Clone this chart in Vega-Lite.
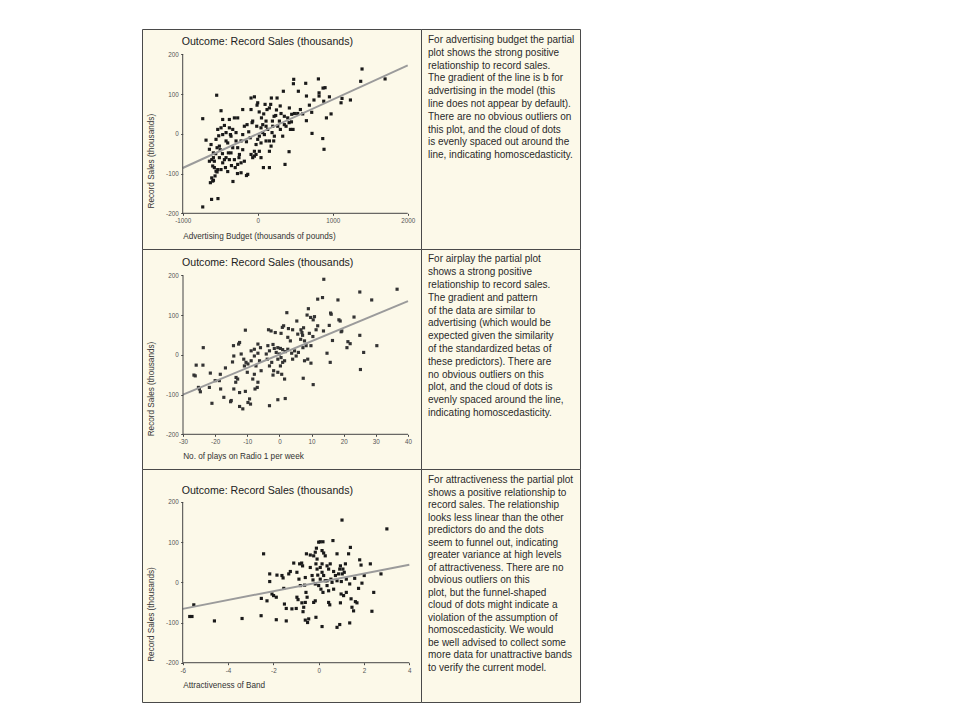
{
  "$schema": "https://vega.github.io/schema/vega-lite/v6.json",
  "padding": {"left": 141, "top": 28, "right": 0, "bottom": 0},
  "background": "white",
  "config": {
    "font": "Liberation Sans",
    "view": {"stroke": "#4a4a4a", "strokeWidth": 1, "fill": "#fcf9e9"},
    "axis": {"grid": false, "domain": false, "tickSize": 2, "tickColor": "#444", "labelFontSize": 6.3, "labelColor": "#555", "labelPadding": 2.5, "titleFontSize": 8.2, "titleFontWeight": "normal", "titleColor": "#333", "labelFlush": false, "labelOverlap": false, "labelExpr": "'' + datum.value"}
  },
  "datasets": {
    "adv": [
      {"x":-733,"y":38},{"x":-733,"y":-184},{"x":-689,"y":-16},{"x":-547,"y":97},{"x":-489,"y":58},{"x":-615,"y":-165},{"x":-530,"y":-163},{"x":-631,"y":-123},{"x":-590,"y":-117},{"x":-330,"y":-120},{"x":-150,"y":-105},{"x":-270,"y":-100},{"x":76,"y":-85},{"x":156,"y":-85},
      {"x":1391,"y":163},{"x":1373,"y":132},{"x":1698,"y":138},{"x":1236,"y":85},{"x":1111,"y":78},{"x":1124,"y":89},{"x":978,"y":50},{"x":956,"y":93},{"x":916,"y":40},{"x":867,"y":-12},{"x":884,"y":-39},{"x":880,"y":82},{"x":898,"y":116},{"x":871,"y":115},{"x":809,"y":138},{"x":818,"y":103},{"x":818,"y":95},{"x":724,"y":1},{"x":720,"y":54},{"x":689,"y":72},{"x":649,"y":33},{"x":640,"y":127},{"x":569,"y":61},{"x":542,"y":107},{"x":480,"y":137},{"x":476,"y":126},{"x":533,"y":51},{"x":489,"y":51},{"x":453,"y":49},{"x":422,"y":65},{"x":418,"y":28},{"x":436,"y":11},{"x":471,"y":11},{"x":418,"y":-45},{"x":364,"y":-77},{"x":342,"y":107},{"x":258,"y":90},{"x":182,"y":90},{"x":173,"y":74},{"x":218,"y":44},{"x":240,"y":46},{"x":196,"y":32},{"x":311,"y":51},{"x":355,"y":44},{"x":355,"y":23},{"x":378,"y":19},{"x":302,"y":11},{"x":200,"y":19},{"x":191,"y":3},{"x":213,"y":-18},{"x":178,"y":-31},{"x":156,"y":-44},{"x":156,"y":-18},{"x":111,"y":-18},{"x":111,"y":32},{"x":124,"y":61},{"x":98,"y":74},{"x":156,"y":65},{"x":0,"y":78},{"x":-9,"y":72},{"x":-44,"y":93},{"x":-89,"y":90},{"x":-89,"y":61},{"x":-67,"y":32},{"x":-75,"y":28},{"x":-13,"y":19},{"x":22,"y":-6},{"x":0,"y":-14},{"x":-22,"y":-27},{"x":44,"y":-23},{"x":-44,"y":-44},{"x":-67,"y":-60},{"x":-89,"y":-52},{"x":-22,"y":-52},{"x":22,"y":-44},{"x":-142,"y":23},{"x":-200,"y":61},{"x":-178,"y":19},{"x":-200,"y":-2},{"x":-222,"y":-18},{"x":-267,"y":40},{"x":-289,"y":3},{"x":-289,"y":-18},{"x":-267,"y":-35},{"x":-244,"y":-52},{"x":-222,"y":-73},{"x":-178,"y":-69},{"x":-267,"y":-77},{"x":-311,"y":-65},{"x":-333,"y":-35},{"x":-378,"y":15},{"x":-364,"y":-2},{"x":-422,"y":3},{"x":-400,"y":-23},{"x":-391,"y":-48},{"x":-356,"y":-48},{"x":-378,"y":-65},{"x":-422,"y":-60},{"x":-444,"y":-65},{"x":-467,"y":-73},{"x":-489,"y":-90},{"x":-533,"y":-90},{"x":-556,"y":-94},{"x":-578,"y":-85},{"x":-578,"y":-69},{"x":-511,"y":-60},{"x":-511,"y":-31},{"x":-542,"y":-35},{"x":-556,"y":-14},{"x":-533,"y":11},{"x":-489,"y":15},{"x":-444,"y":21},{"x":-467,"y":-2},{"x":-422,"y":-18},{"x":-356,"y":-6},{"x":-378,"y":36},{"x":-467,"y":36},{"x":-333,"y":11},{"x":-311,"y":40},{"x":-622,"y":-27},{"x":-644,"y":-39},{"x":-591,"y":-48},{"x":-591,"y":-60},{"x":-613,"y":-65},{"x":-644,"y":-69},{"x":-600,"y":-81},{"x":-569,"y":-106},{"x":-542,"y":-96},{"x":-613,"y":-111},{"x":-600,"y":-119},{"x":-222,"y":-98},{"x":-133,"y":-102},{"x":-44,"y":-56},{"x":44,"y":-60},{"x":44,"y":15},{"x":67,"y":3},{"x":89,"y":-2},{"x":111,"y":19},{"x":133,"y":11},{"x":67,"y":23},{"x":267,"y":19},{"x":289,"y":32},{"x":333,"y":-6},{"x":222,"y":-6},
      {"x":-520,"y":-5},{"x":-500,"y":-40},{"x":-560,"y":-50},{"x":-470,"y":-50},{"x":-430,"y":-85},{"x":-400,"y":-95},{"x":-350,"y":-80},{"x":-300,"y":-85},{"x":-250,"y":-60},{"x":-200,"y":-40},{"x":-150,"y":-20},{"x":-100,"y":-10},{"x":-120,"y":5},{"x":50,"y":40},{"x":80,"y":50},{"x":20,"y":55},{"x":250,"y":60},{"x":300,"y":70},{"x":400,"y":40},{"x":450,"y":30},{"x":600,"y":50},{"x":650,"y":95},{"x":750,"y":85}
    ],
    "advLine": [{"x":-1000,"y":-86},{"x":2000,"y":172}],
    "air": [
      {"x":13.8,"y":190},{"x":25,"y":158},{"x":36.6,"y":165},{"x":28.7,"y":138},{"x":18.2,"y":138},{"x":13.4,"y":144},{"x":11.9,"y":140},{"x":9,"y":116},{"x":2.3,"y":106},{"x":8.6,"y":100},{"x":10.9,"y":96},{"x":9.7,"y":94},{"x":10.5,"y":88},{"x":16.1,"y":102},{"x":15.9,"y":105},{"x":18.5,"y":88},{"x":18.9,"y":85},{"x":23.2,"y":95},{"x":15.5,"y":74},{"x":13.7,"y":60},{"x":11.9,"y":73},{"x":11.4,"y":63},{"x":7.5,"y":68},{"x":6.7,"y":63},{"x":7,"y":56},{"x":7.2,"y":49},{"x":6.6,"y":39},{"x":5.7,"y":52},{"x":5.4,"y":85},{"x":4.1,"y":63},{"x":2.8,"y":66},{"x":1.3,"y":73},{"x":0.9,"y":69},{"x":0.5,"y":54},{"x":3.4,"y":35},{"x":2.6,"y":44},{"x":10.4,"y":46},{"x":9.3,"y":54},{"x":9.8,"y":23},{"x":8.3,"y":23},{"x":7.8,"y":35},{"x":7.3,"y":18},{"x":19.2,"y":58},{"x":19.4,"y":60},{"x":16.5,"y":36},{"x":21,"y":18},{"x":22,"y":28},{"x":21.3,"y":33},{"x":25,"y":49},{"x":26.2,"y":6},{"x":30.3,"y":23},{"x":25.2,"y":-37},{"x":15.8,"y":-19},{"x":14.8,"y":4},{"x":10.5,"y":-75},{"x":7.4,"y":-59},{"x":9.8,"y":-21},{"x":8.8,"y":-11},{"x":7.8,"y":-15},{"x":5.9,"y":6},{"x":5.2,"y":-3},{"x":4.7,"y":10},{"x":3.8,"y":4},{"x":4.1,"y":-11},{"x":2.6,"y":14},{"x":1.8,"y":8},{"x":1,"y":13},{"x":0.3,"y":16},{"x":-0.5,"y":18},{"x":0,"y":2},{"x":0.5,"y":-7},{"x":1.6,"y":-15},{"x":1,"y":-19},{"x":0.3,"y":-28},{"x":-0.5,"y":-11},{"x":-1,"y":6},{"x":-1.6,"y":16},{"x":-2,"y":26},{"x":-2.6,"y":60},{"x":-3.4,"y":63},{"x":-1.3,"y":56},{"x":-3.6,"y":23},{"x":-3.1,"y":10},{"x":-4.1,"y":2},{"x":-3.8,"y":-11},{"x":-2.4,"y":-19},{"x":-3.1,"y":-28},{"x":-1.8,"y":-40},{"x":-2,"y":-51},{"x":-0.5,"y":-44},{"x":0.7,"y":-49},{"x":1.6,"y":-61},{"x":1.8,"y":-110},{"x":-0.5,"y":-113},{"x":-3.1,"y":-128},{"x":-5.7,"y":-40},{"x":-6.2,"y":-15},{"x":-6.7,"y":4},{"x":-5.9,"y":18},{"x":-6.7,"y":27},{"x":-7.8,"y":14},{"x":-7.8,"y":-3},{"x":-8.8,"y":10},{"x":-8.8,"y":-15},{"x":-9.8,"y":-23},{"x":-7.3,"y":-28},{"x":-7.8,"y":-49},{"x":-8.3,"y":-61},{"x":-6.7,"y":-69},{"x":-6.9,"y":-82},{"x":-7.6,"y":-86},{"x":-10,"y":-44},{"x":-9.3,"y":-111},{"x":-9.8,"y":-120},{"x":-9,"y":-124},{"x":-11.4,"y":-136},{"x":-12.4,"y":-130},{"x":-12.4,"y":-95},{"x":-10.6,"y":-92},{"x":-10.6,"y":62},{"x":-11.9,"y":2},{"x":-11.1,"y":-11},{"x":-10.4,"y":-19},{"x":-10.9,"y":-28},{"x":-12.4,"y":31},{"x":-12.7,"y":27},{"x":-14.3,"y":23},{"x":-14.2,"y":-3},{"x":-14.6,"y":-18},{"x":-13,"y":-61},{"x":-13.6,"y":-69},{"x":-13.5,"y":-57},{"x":-14.2,"y":-86},{"x":-15,"y":-115},{"x":-15.2,"y":-118},{"x":-16.8,"y":-33},{"x":-17.3,"y":-107},{"x":-18.4,"y":-49},{"x":-18.7,"y":-65},{"x":-18.3,"y":-86},{"x":-20,"y":-65},{"x":-21.5,"y":-46},{"x":-21,"y":-122},{"x":-21.8,"y":-82},{"x":-23.7,"y":18},{"x":-23.8,"y":-26},{"x":-24.9,"y":-86},{"x":-24.6,"y":-93},{"x":-25.9,"y":-26},{"x":-26.6,"y":-51},{"x":-26.2,"y":-53},{"x":-25.2,"y":-82}
    ],
    "airLine": [{"x":-30,"y":-100},{"x":40,"y":135}],
    "att": [
      {"x":-5.69,"y":-85},{"x":-5.59,"y":-85},{"x":-5.51,"y":-56},{"x":-4.6,"y":-96},{"x":-3.38,"y":-90},{"x":-2.54,"y":-83},{"x":-2.43,"y":71},{"x":-2.53,"y":-40},{"x":-2.28,"y":-46},{"x":-2.16,"y":21},{"x":-2.16,"y":2},{"x":-2.06,"y":-29},{"x":-1.99,"y":-33},{"x":-1.87,"y":-37},{"x":-1.87,"y":-93},{"x":-1.84,"y":18},{"x":-1.62,"y":17},{"x":-1.57,"y":11},{"x":-1.54,"y":-15},{"x":-1.51,"y":-54},{"x":-1.43,"y":-96},{"x":-1.43,"y":-65},{"x":-1.32,"y":21},{"x":-1.25,"y":27},{"x":-1.18,"y":-66},{"x":-1.1,"y":48},{"x":-0.99,"y":-65},{"x":-0.96,"y":25},{"x":-0.87,"y":8},{"x":-0.81,"y":-8},{"x":-0.84,"y":46},{"x":-0.75,"y":48},{"x":-0.71,"y":41},{"x":-0.74,"y":-51},{"x":-0.69,"y":-73},{"x":-0.96,"y":-37},{"x":-0.91,"y":-43},{"x":-0.66,"y":-62},{"x":-0.59,"y":-50},{"x":-0.51,"y":-37},{"x":-0.56,"y":-25},{"x":-0.62,"y":-7},{"x":-0.59,"y":12},{"x":-0.59,"y":-94},{"x":-0.49,"y":-100},{"x":-0.44,"y":-91},{"x":-0.54,"y":71},{"x":-0.37,"y":37},{"x":-0.37,"y":68},{"x":-0.29,"y":17},{"x":-0.25,"y":6},{"x":-0.22,"y":66},{"x":-0.15,"y":75},{"x":-0.1,"y":85},{"x":-0.07,"y":58},{"x":-0.12,"y":46},{"x":-0.07,"y":33},{"x":-0.04,"y":18},{"x":-0.15,"y":-4},{"x":-0.15,"y":-46},{"x":-0.22,"y":-50},{"x":-0.12,"y":-87},{"x":0,"y":100},{"x":0.07,"y":101},{"x":0.19,"y":101},{"x":0.15,"y":79},{"x":0.22,"y":73},{"x":0.29,"y":66},{"x":0.15,"y":46},{"x":0.07,"y":37},{"x":0.15,"y":25},{"x":0.22,"y":17},{"x":0.07,"y":8},{"x":0,"y":-8},{"x":0.1,"y":-17},{"x":0.19,"y":-25},{"x":0.29,"y":4},{"x":0.37,"y":-8},{"x":0.44,"y":-21},{"x":0.15,"y":-110},{"x":0.37,"y":41},{"x":0.44,"y":33},{"x":0.51,"y":46},{"x":0.54,"y":8},{"x":0.63,"y":104},{"x":0.59,"y":0},{"x":0.66,"y":-17},{"x":0.44,"y":-50},{"x":0.49,"y":-56},{"x":0.81,"y":71},{"x":0.88,"y":21},{"x":0.93,"y":33},{"x":0.96,"y":41},{"x":1,"y":2},{"x":0.99,"y":-29},{"x":0.96,"y":-51},{"x":0.93,"y":-105},{"x":0.81,"y":-112},{"x":1.03,"y":155},{"x":1.07,"y":33},{"x":1.13,"y":25},{"x":1.18,"y":46},{"x":1.22,"y":8},{"x":1.22,"y":-25},{"x":1.1,"y":-33},{"x":1.04,"y":21},{"x":1.32,"y":71},{"x":1.4,"y":87},{"x":1.37,"y":-4},{"x":1.37,"y":-101},{"x":1.43,"y":-41},{"x":1.47,"y":-62},{"x":1.54,"y":-71},{"x":1.62,"y":-48},{"x":1.69,"y":-51},{"x":1.59,"y":10},{"x":1.76,"y":-15},{"x":1.81,"y":56},{"x":1.87,"y":43},{"x":1.91,"y":-2},{"x":2.01,"y":17},{"x":2.28,"y":46},{"x":2.35,"y":-72},{"x":2.43,"y":-25},{"x":2.75,"y":21},{"x":3.01,"y":133},{"x":0.81,"y":4},{"x":0.74,"y":17},{"x":0.66,"y":27},{"x":0.37,"y":4}
    ],
    "attLine": [{"x":-6,"y":-66},{"x":4,"y":44}],
    "heading": [{"label": "Outcome: Record Sales (thousands)"}],
    "t1": [
      {"line":1,"text":"For advertising budget the partial"},
      {"line":2,"text":"plot shows the strong positive"},
      {"line":3,"text":"relationship to record sales."},
      {"line":4,"text":"The gradient of the line is b for"},
      {"line":5,"text":"advertising in the model (this"},
      {"line":6,"text":"line does not appear by default)."},
      {"line":7,"text":"There are no obvious outliers on"},
      {"line":8,"text":"this plot, and the cloud of dots"},
      {"line":9,"text":"is evenly spaced out around the"},
      {"line":10,"text":"line, indicating homoscedasticity."}
    ],
    "t2": [
      {"line":1,"text":"For airplay the partial plot"},
      {"line":2,"text":"shows a strong positive"},
      {"line":3,"text":"relationship to record sales."},
      {"line":4,"text":"The gradient and pattern"},
      {"line":5,"text":"of the data are similar to"},
      {"line":6,"text":"advertising (which would be"},
      {"line":7,"text":"expected given the similarity"},
      {"line":8,"text":"of the standardized betas of"},
      {"line":9,"text":"these predictors). There are"},
      {"line":10,"text":"no obvious outliers on this"},
      {"line":11,"text":"plot, and the cloud of dots is"},
      {"line":12,"text":"evenly spaced around the line,"},
      {"line":13,"text":"indicating homoscedasticity."}
    ],
    "t3": [
      {"line":1,"text":"For attractiveness the partial plot"},
      {"line":2,"text":"shows a positive relationship to"},
      {"line":3,"text":"record sales. The relationship"},
      {"line":4,"text":"looks less linear than the other"},
      {"line":5,"text":"predictors do and the dots"},
      {"line":6,"text":"seem to funnel out, indicating"},
      {"line":7,"text":"greater variance at high levels"},
      {"line":8,"text":"of attractiveness. There are no"},
      {"line":9,"text":"obvious outliers on this"},
      {"line":10,"text":"plot, but the funnel-shaped"},
      {"line":11,"text":"cloud of dots might indicate a"},
      {"line":12,"text":"violation of the assumption of"},
      {"line":13,"text":"homoscedasticity. We would"},
      {"line":14,"text":"be well advised to collect some"},
      {"line":15,"text":"more data for unattractive bands"},
      {"line":16,"text":"to verify the current model."}
    ]
  },
  "columns": 2,
  "spacing": 0,
  "bounds": "flush",
  "align": "each",
  "concat": [
    {
      "width": 279,
      "height": 220,
      "layer": [
        {"data": {"name": "adv"}, "mark": {"type": "square", "size": 10, "color": "#1a1a1a", "opacity": 1},
          "encoding": {
            "x": {"field": "x", "type": "quantitative", "scale": {"domain": [-1542.7, 2177], "nice": false, "zero": false},
              "axis": {"values": [-1000, 0, 1000, 2000], "labelOverlap": false, "offset": -35.7, "title": "Advertising Budget (thousands of pounds)", "titleX": 40.7, "titleY": 23.4, "titleAlign": "left", "titleBaseline": "middle"}},
            "y": {"field": "y", "type": "quantitative", "scale": {"domain": [-289.8, 263.6], "nice": false, "zero": false},
              "axis": {"values": [-200, -100, 0, 100, 200], "labelOverlap": false, "offset": -40.7, "title": "Record Sales (thousands)", "titleX": -31.7, "titleY": 131.7, "titleAngle": -90, "titleAlign": "center", "titleBaseline": "middle"}}
          }},
        {"data": {"name": "advLine"}, "mark": {"type": "line", "color": "#9b9b9b", "strokeWidth": 2},
          "encoding": {
            "x": {"field": "x", "type": "quantitative", "axis": {"values": [-1000, 0, 1000, 2000], "labelOverlap": false, "offset": -35.7, "title": "Advertising Budget (thousands of pounds)", "titleX": 40.7, "titleY": 23.4, "titleAlign": "left", "titleBaseline": "middle"}},
            "y": {"field": "y", "type": "quantitative", "axis": {"values": [-200, -100, 0, 100, 200], "labelOverlap": false, "offset": -40.7, "title": "Record Sales (thousands)", "titleX": -31.7, "titleY": 131.7, "titleAngle": -90, "titleAlign": "center", "titleBaseline": "middle"}}
          }},
        {"data": {"name": "heading"}, "mark": {"type": "text", "align": "left", "baseline": "middle", "fontSize": 10.6, "color": "#222", "dx": -1}, "encoding": {"x": {"datum": -1000}, "y": {"datum": 230.9}, "text": {"field": "label", "type": "nominal"}}},
        {"data": {"values": [{}]}, "mark": {"type": "rule", "color": "#444", "strokeWidth": 1}, "encoding": {"x": {"datum": -1000}, "x2": {"datum": 2000}, "y": {"datum": -200}}},
        {"data": {"values": [{}]}, "mark": {"type": "rule", "color": "#444", "strokeWidth": 1}, "encoding": {"x": {"datum": -1000}, "y": {"datum": -200}, "y2": {"datum": 200}}}
      ]
    },
    {
      "width": 159,
      "height": 220,
      "data": {"name": "t1"},
      "mark": {"type": "text", "align": "left", "baseline": "middle", "fontSize": 10, "color": "#2a2a2a", "dx": 7},
      "encoding": {
        "x": {"value": 0},
        "y": {"field": "line", "type": "quantitative", "scale": {"domain": [0.141, 17.33], "reverse": true, "nice": false, "zero": false}, "axis": null},
        "text": {"field": "text"}
      }
    },
    {
      "width": 279,
      "height": 220,
      "layer": [
        {"data": {"name": "air"}, "mark": {"type": "square", "size": 10, "color": "#333333", "opacity": 1},
          "encoding": {
            "x": {"field": "x", "type": "quantitative", "scale": {"domain": [-42.76, 44.04], "nice": false, "zero": false},
              "axis": {"values": [-30, -20, -10, 0, 10, 20, 30, 40], "labelOverlap": false, "offset": -34.7, "title": "No. of plays on Radio 1 per week", "titleX": 40.7, "titleY": 22.4, "titleAlign": "left", "titleBaseline": "middle"}},
            "y": {"field": "y", "type": "quantitative", "scale": {"domain": [-287.3, 266.2], "nice": false, "zero": false},
              "axis": {"values": [-200, -100, 0, 100, 200], "labelOverlap": false, "offset": -40.7, "title": "Record Sales (thousands)", "titleX": -31.7, "titleY": 139.5, "titleAngle": -90, "titleAlign": "center", "titleBaseline": "middle"}}
          }},
        {"data": {"name": "airLine"}, "mark": {"type": "line", "color": "#9b9b9b", "strokeWidth": 2},
          "encoding": {
            "x": {"field": "x", "type": "quantitative", "axis": {"values": [-30, -20, -10, 0, 10, 20, 30, 40], "labelOverlap": false, "offset": -34.7, "title": "No. of plays on Radio 1 per week", "titleX": 40.7, "titleY": 22.4, "titleAlign": "left", "titleBaseline": "middle"}},
            "y": {"field": "y", "type": "quantitative", "axis": {"values": [-200, -100, 0, 100, 200], "labelOverlap": false, "offset": -40.7, "title": "Record Sales (thousands)", "titleX": -31.7, "titleY": 139.5, "titleAngle": -90, "titleAlign": "center", "titleBaseline": "middle"}}
          }},
        {"data": {"name": "heading"}, "mark": {"type": "text", "align": "left", "baseline": "middle", "fontSize": 10.6, "color": "#222", "dx": -1},
          "encoding": {
            "x": {"datum": -30, "axis": {"values": [-30, -20, -10, 0, 10, 20, 30, 40], "labelOverlap": false, "offset": -34.7, "title": "No. of plays on Radio 1 per week", "titleX": 40.7, "titleY": 22.4, "titleAlign": "left", "titleBaseline": "middle"}},
            "y": {"datum": 230.2, "axis": {"values": [-200, -100, 0, 100, 200], "labelOverlap": false, "offset": -40.7, "title": "Record Sales (thousands)", "titleX": -31.7, "titleY": 139.5, "titleAngle": -90, "titleAlign": "center", "titleBaseline": "middle"}},
            "text": {"field": "label", "type": "nominal"}}},
        {"data": {"values": [{}]}, "mark": {"type": "rule", "color": "#444", "strokeWidth": 1},
          "encoding": {
            "x": {"datum": -30, "axis": {"values": [-30, -20, -10, 0, 10, 20, 30, 40], "labelOverlap": false, "offset": -34.7, "title": "No. of plays on Radio 1 per week", "titleX": 40.7, "titleY": 22.4, "titleAlign": "left", "titleBaseline": "middle"}},
            "x2": {"datum": 40},
            "y": {"datum": -200, "axis": {"values": [-200, -100, 0, 100, 200], "labelOverlap": false, "offset": -40.7, "title": "Record Sales (thousands)", "titleX": -31.7, "titleY": 139.5, "titleAngle": -90, "titleAlign": "center", "titleBaseline": "middle"}}}},
        {"data": {"values": [{}]}, "mark": {"type": "rule", "color": "#444", "strokeWidth": 1},
          "encoding": {
            "x": {"datum": -30, "axis": {"values": [-30, -20, -10, 0, 10, 20, 30, 40], "labelOverlap": false, "offset": -34.7, "title": "No. of plays on Radio 1 per week", "titleX": 40.7, "titleY": 22.4, "titleAlign": "left", "titleBaseline": "middle"}},
            "y": {"datum": -200, "axis": {"values": [-200, -100, 0, 100, 200], "labelOverlap": false, "offset": -40.7, "title": "Record Sales (thousands)", "titleX": -31.7, "titleY": 139.5, "titleAngle": -90, "titleAlign": "center", "titleBaseline": "middle"}},
            "y2": {"datum": 200}}}
      ]
    },
    {
      "width": 159,
      "height": 220,
      "data": {"name": "t2"},
      "mark": {"type": "text", "align": "left", "baseline": "middle", "fontSize": 10, "color": "#2a2a2a", "dx": 7},
      "encoding": {
        "x": {"value": 0},
        "y": {"field": "line", "type": "quantitative", "scale": {"domain": [0.195, 17.38], "reverse": true, "nice": false, "zero": false}, "axis": null},
        "text": {"field": "text"}
      }
    },
    {
      "width": 279,
      "height": 233,
      "layer": [
        {"data": {"name": "att"}, "mark": {"type": "square", "size": 10, "color": "#1a1a1a", "opacity": 1},
          "encoding": {
            "x": {"field": "x", "type": "quantitative", "scale": {"domain": [-7.796, 4.516], "nice": false, "zero": false},
              "axis": {"values": [-6, -4, -2, 0, 2, 4], "labelOverlap": false, "offset": -39.3, "title": "Attractiveness of Band", "titleX": 40.7, "titleY": 22.6, "titleAlign": "left", "titleBaseline": "middle"}},
            "y": {"field": "y", "type": "quantitative", "scale": {"domain": [-297.8, 282.1], "nice": false, "zero": false},
              "axis": {"values": [-200, -100, 0, 100, 200], "labelOverlap": false, "offset": -40.7, "title": "Record Sales (thousands)", "titleX": -31.7, "titleY": 145, "titleAngle": -90, "titleAlign": "center", "titleBaseline": "middle"}}
          }},
        {"data": {"name": "attLine"}, "mark": {"type": "line", "color": "#9b9b9b", "strokeWidth": 2},
          "encoding": {
            "x": {"field": "x", "type": "quantitative", "axis": {"values": [-6, -4, -2, 0, 2, 4], "labelOverlap": false, "offset": -39.3, "title": "Attractiveness of Band", "titleX": 40.7, "titleY": 22.6, "titleAlign": "left", "titleBaseline": "middle"}},
            "y": {"field": "y", "type": "quantitative", "axis": {"values": [-200, -100, 0, 100, 200], "labelOverlap": false, "offset": -40.7, "title": "Record Sales (thousands)", "titleX": -31.7, "titleY": 145, "titleAngle": -90, "titleAlign": "center", "titleBaseline": "middle"}}
          }},
        {"data": {"name": "heading"}, "mark": {"type": "text", "align": "left", "baseline": "middle", "fontSize": 10.6, "color": "#222", "dx": -1}, "encoding": {"x": {"datum": -6}, "y": {"datum": 227.3}, "text": {"field": "label", "type": "nominal"}}},
        {"data": {"values": [{}]}, "mark": {"type": "rule", "color": "#444", "strokeWidth": 1}, "encoding": {"x": {"datum": -6}, "x2": {"datum": 4}, "y": {"datum": -200}}},
        {"data": {"values": [{}]}, "mark": {"type": "rule", "color": "#444", "strokeWidth": 1}, "encoding": {"x": {"datum": -6}, "y": {"datum": -200}, "y2": {"datum": 200}}}
      ]
    },
    {
      "width": 159,
      "height": 233,
      "data": {"name": "t3"},
      "mark": {"type": "text", "align": "left", "baseline": "middle", "fontSize": 10, "color": "#2a2a2a", "dx": 7},
      "encoding": {
        "x": {"value": 0},
        "y": {"field": "line", "type": "quantitative", "scale": {"domain": [0.12, 18.76], "reverse": true, "nice": false, "zero": false}, "axis": null},
        "text": {"field": "text"}
      }
    }
  ]
}
